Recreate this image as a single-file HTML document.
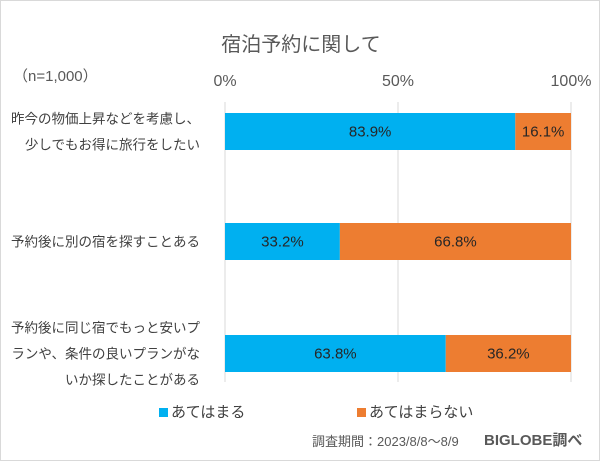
<!DOCTYPE html>
<html><head><meta charset="utf-8"><style>
html,body{margin:0;padding:0;background:#fff}
#c{position:relative;width:600px;height:461px;box-sizing:border-box;border:1px solid #d9d9d9;background:#fff;font-family:"Liberation Sans","Noto Sans CJK JP",sans-serif;color:#404040;overflow:hidden}
.t{position:absolute;white-space:nowrap}
</style></head><body>
<div id="c">
<div class="t" style="left:0;width:600px;text-align:center;top:27px;font-size:20px;color:#595959">宿泊予約に関して</div>
<div class="t" style="left:12px;top:64px;font-size:15px;color:#595959">（n=1,000）</div>
<svg id="s" width="600" height="461" style="position:absolute;left:0;top:0"></svg>
<div class="t" style="left:158px;top:400px;font-size:15px"><span style="display:inline-block;width:9px;height:9px;background:#00b0f0;margin-right:3px"></span>あてはまる</div>
<div class="t" style="left:356px;top:400px;font-size:15px"><span style="display:inline-block;width:9px;height:9px;background:#ed7d31;margin-right:3px"></span>あてはまらない</div>
<div class="t" style="left:311px;top:430px;font-size:13px;color:#595959">調査期間：2023/8/8～8/9</div>
<div class="t" style="left:483px;top:428px;font-size:15px;font-weight:bold;color:#595959">BIGLOBE調べ</div>
</div>
<script>
const categories=[["昨今の物価上昇などを考慮し、","少しでもお得に旅行をしたい"],["予約後に別の宿を探すことある"],["予約後に同じ宿でもっと安いプ","ランや、条件の良いプランがな","いか探したことがある"]];
const yesValues=[83.9,33.2,63.8];
const noValues=[16.1,66.8,36.2];
const tickValues=[0,50,100];
const tickLabels=["0%","50%","100%"];
const x0=224,x1=570,rowTop=[112,222,334],barH=37;
const X=v=>x0+(x1-x0)*v/100;
const s=document.getElementById('s'),NS='http://www.w3.org/2000/svg';
function mk(t,a){const e=document.createElementNS(NS,t);for(const k in a)e.setAttribute(k,a[k]);s.appendChild(e);return e;}
tickValues.forEach((v,i)=>{
 const l=mk('line',{x1:X(v),x2:X(v),y1:101,y2:381,stroke:'#d9d9d9','stroke-width':1});
 
 
 const t=mk('text',{x:X(v),y:85,'text-anchor':'middle','font-size':16,fill:'#595959','font-family':'Liberation Sans, sans-serif'});
 t.textContent=tickLabels[i];
 
 
});
categories.forEach((c,i)=>{
 const y=rowTop[i],cy=y+barH/2;
 const b1=mk('rect',{x:X(0),y:y,width:X(yesValues[i])-X(0),height:barH,fill:'#00b0f0'});
 
 
 const b2=mk('rect',{x:X(yesValues[i]),y:y,width:X(yesValues[i]+noValues[i])-X(yesValues[i]),height:barH,fill:'#ed7d31'});
 
 
 [[yesValues[i],0],[noValues[i],yesValues[i]]].forEach(([v,st])=>{
  const t=mk('text',{x:(X(st)+X(st+v))/2,y:cy+5,'text-anchor':'middle','font-size':15,fill:'#262626','font-family':'Liberation Sans, sans-serif'});
  t.textContent=v.toFixed(1)+'%';
  
  
 });
 const n=c.length,lh=26;
 c.forEach((line,j)=>{
  const t=mk('text',{x:199,y:cy+5+(j-(n-1)/2)*lh,'text-anchor':'end','font-size':13.5,fill:'#404040','font-family':'Liberation Sans, Noto Sans CJK JP, sans-serif'});
  t.textContent=line;
  
  
 });
});
</script>
</body></html>
